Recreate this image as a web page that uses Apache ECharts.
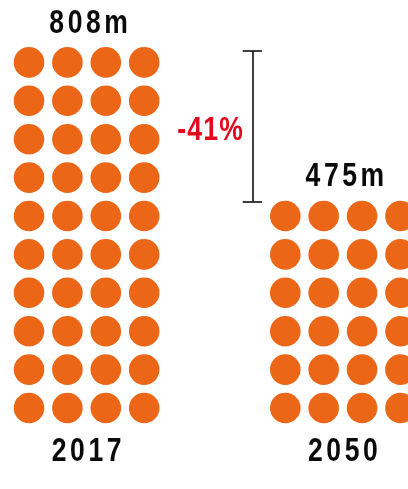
<!DOCTYPE html>
<html>
<head>
<meta charset="utf-8">
<script src="https://cdn.jsdelivr.net/npm/echarts@6/dist/echarts.min.js"></script>
<style>html,body{margin:0;padding:0;background:#fff}#c{width:408px;height:489px}</style>
</head>
<body>
<div id="c"></div>
<script>
// Data
const years = ['2017', '2050'];
const valuesM = [808, 475];          // millions
const valueLabels = ['808m', '475m'];
const changeLabel = '-41%';
const unitPerDot = 20;               // each dot ~ 20m

// Layout constants
const cell = 38.4, cols = 4;
const groupOffset = [0, 6.674];
const FONT = '"Liberation Sans", Arial, sans-serif';

const data = [];
years.forEach((y, g) => {
  const n = Math.round(valuesM[g] / unitPerDot);
  for (let i = 0; i < n; i++) {
    data.push([groupOffset[g] + (i % cols), Math.floor(i / cols)]);
  }
});

function spaced(s, style) {
  return s.split('').map(ch => '{' + style + '|' + ch + '}').join('');
}

const chart = echarts.init(document.getElementById('c'));
chart.setOption({
  animation: false,
  grid: {left: 0, right: 0, top: 0, bottom: 0},
  xAxis: {type: 'value', min: -29 / cell, max: (408 - 29) / cell, show: false},
  yAxis: {type: 'value', min: -(489 - 408) / cell, max: 408 / cell, show: false},
  series: [{
    type: 'scatter',
    symbol: 'circle',
    symbolSize: 30.6,
    itemStyle: {color: '#EC6617', opacity: 1},
    data: data,
    markLine: {
      silent: true,
      symbol: 'none',
      label: {show: false},
      lineStyle: {color: '#111', width: 1.6, type: 'solid', opacity: 1},
      data: [
        [{coord: [5.815, 9.3]}, {coord: [5.815, 5.37]}],
        [{coord: [5.565, 9.3]}, {coord: [6.065, 9.3]}],
        [{coord: [5.565, 5.37]}, {coord: [6.065, 5.37]}]
      ]
    }
  }]
});

function pix(x, y) { return chart.convertToPixel({gridIndex: 0}, [x, y]); }

const rich = {
  k: {fontFamily: FONT, fontWeight: 'bold', fontSize: 34, fill: '#0a0a0a', padding: [0, 2.3]},
  r: {fontFamily: FONT, fontWeight: 'bold', fontSize: 34, fill: '#E30A1E', padding: [0, 0.8]}
};
const graphics = [];
function label(x, y, txt, st) {
  graphics.push({type: 'text', x: x, y: y, scaleX: 0.78, style: {text: spaced(txt, st), rich: rich, align: 'center', verticalAlign: 'middle'}});
}
years.forEach((y, g) => {
  const n = Math.round(valuesM[g] / unitPerDot);
  const rows = Math.ceil(n / cols);
  const cx = pix(groupOffset[g] + 1.5, 0)[0];
  label(cx + 2, pix(0, rows - 1)[1] - 39, valueLabels[g], 'k');
  label(cx, pix(0, 0)[1] + 44, y, 'k');
});
label(210, 131, changeLabel, 'r');
chart.setOption({graphic: graphics});
</script>
</body>
</html>
